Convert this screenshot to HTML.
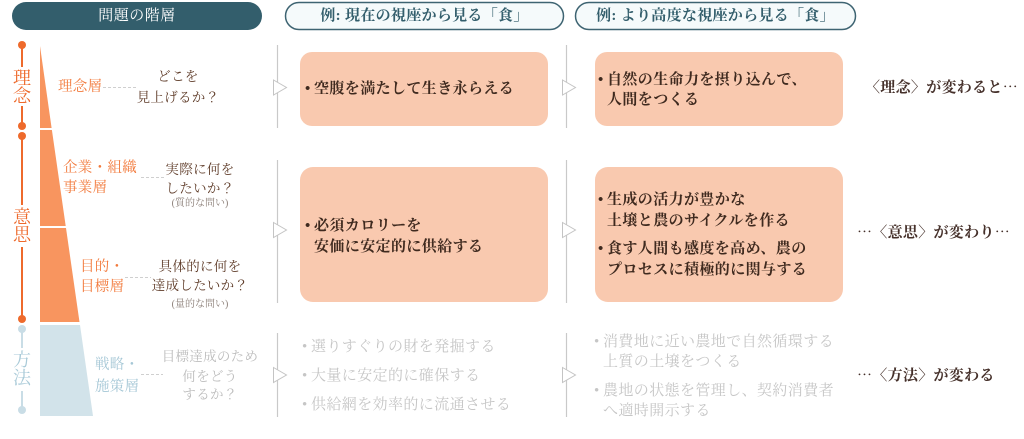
<!DOCTYPE html>
<html lang="ja"><head><meta charset="utf-8">
<style>
body{margin:0;width:1024px;height:439px;background:#fff;position:relative;overflow:hidden;font-family:"Liberation Serif","Noto Serif CJK SC",serif;}
.t{position:absolute;white-space:nowrap;}
.c{text-align:center;}
.or{color:#f27a3c;font-size:14.5px;line-height:20px;letter-spacing:0.3px;}
.bl{color:#a5c7d6;font-size:14.5px;line-height:20px;letter-spacing:0.3px;}
.q{color:#5e3b28;font-size:13.5px;line-height:20px;letter-spacing:0.3px;}
.qg{color:#bcbcbc;font-size:13.5px;line-height:20px;letter-spacing:0.3px;}
.sm{color:#8a7d76;font-size:10px;line-height:14px;}
.bx{color:#3f2a1f;font-size:15px;line-height:20px;letter-spacing:0.4px;font-weight:bold;}
.gy{color:#c6c6c6;font-size:15px;line-height:20px;letter-spacing:0.4px;}
.b{display:inline-block;width:9px;}
.rt{color:#45302a;font-size:15px;line-height:20px;letter-spacing:0.3px;font-weight:bold;font-family:"Noto Serif CJK SC",serif;}
.vt{position:absolute;width:20px;text-align:center;font-size:18px;line-height:18px;}
</style></head><body>
<svg width="1024" height="439" style="position:absolute;left:0;top:0">
  <rect x="12" y="2" width="250" height="28" rx="14" fill="#335e6c"/>
  <rect x="285.5" y="2.5" width="278" height="27" rx="13.5" fill="#f5fafb" stroke="#3e6472" stroke-width="1.5"/>
  <rect x="575.5" y="2.5" width="280" height="27" rx="13.5" fill="#f5fafb" stroke="#3e6472" stroke-width="1.5"/>

  <polygon points="40,46 40,128 51.6,128" fill="#f8955f"/>
  <polygon points="40,130 51.9,130 65.7,226 40,226" fill="#f8955f"/>
  <polygon points="40,228 66,228 79.5,322 40,322" fill="#f8955f"/>
  <polygon points="40,325 80,325 93,416 40,416" fill="#d2e3ea"/>

  <g stroke="#ee6a2c" stroke-width="2" fill="#ee6a2c">
    <line x1="22" y1="45" x2="22" y2="67"/>
    <line x1="22" y1="106" x2="22" y2="126"/>
    <line x1="22" y1="136" x2="22" y2="205"/>
    <line x1="22" y1="247" x2="22" y2="319"/>
    <circle cx="22" cy="45" r="4" stroke="none"/>
    <circle cx="22" cy="126" r="4" stroke="none"/>
    <circle cx="22" cy="136" r="4" stroke="none"/>
    <circle cx="22" cy="319" r="4" stroke="none"/>
  </g>
  <g stroke="#c9dde6" stroke-width="2" fill="#c9dde6">
    <line x1="22" y1="329" x2="22" y2="348"/>
    <line x1="22" y1="391" x2="22" y2="410"/>
    <circle cx="22" cy="329" r="4" stroke="none"/>
    <circle cx="22" cy="410" r="4" stroke="none"/>
  </g>

  <g stroke="#cfcfcf" stroke-width="1" stroke-dasharray="3 2">
    <line x1="103" y1="87.5" x2="138" y2="87.5"/>
    <line x1="141" y1="177.5" x2="165" y2="177.5"/>
    <line x1="125" y1="277.5" x2="151" y2="277.5"/>
    <line x1="141" y1="374.5" x2="163" y2="374.5"/>
  </g>

  <g stroke="#c9c9c9" stroke-width="1.2">
    <line x1="277.5" y1="45" x2="277.5" y2="128"/>
    <line x1="277.5" y1="160" x2="277.5" y2="303"/>
    <line x1="277.5" y1="333" x2="277.5" y2="417"/>
    <line x1="566.5" y1="45" x2="566.5" y2="128"/>
    <line x1="566.5" y1="160" x2="566.5" y2="303"/>
    <line x1="566.5" y1="333" x2="566.5" y2="417"/>
  </g>
  <g fill="#fff" stroke="#c4c4c4" stroke-width="1">
    <polygon points="273.5,80 286.5,87.5 273.5,95"/>
    <polygon points="273.5,222.5 286.5,230 273.5,237.5"/>
    <polygon points="273.5,367.5 286.5,375 273.5,382.5"/>
    <polygon points="562.5,80 575.5,87.5 562.5,95"/>
    <polygon points="562.5,222.5 575.5,230 562.5,237.5"/>
    <polygon points="562.5,367.5 575.5,375 562.5,382.5"/>
  </g>

  <rect x="300" y="52" width="248" height="74" rx="12" fill="#f9c9af"/>
  <rect x="595" y="52" width="248" height="74" rx="12" fill="#f9c9af"/>
  <rect x="300" y="167" width="248" height="135" rx="13" fill="#f9c9af"/>
  <rect x="595" y="167" width="248" height="135" rx="13" fill="#f9c9af"/>
</svg>

<div class="t c" style="left:12px;top:2px;width:250px;line-height:28px;font-size:15px;color:#fff;letter-spacing:0.5px;">問題の階層</div>
<div class="t c" style="left:285px;top:2px;width:279px;line-height:28px;font-size:15px;color:#335e6c;font-weight:bold;letter-spacing:0.3px;">例: 現在の視座から見る「食」</div>
<div class="t c" style="left:575px;top:2px;width:281px;line-height:28px;font-size:15px;color:#335e6c;font-weight:bold;letter-spacing:0.3px;">例: より高度な視座から見る「食」</div>

<div class="vt" style="left:12px;top:69px;color:#ee6a2c;">理<br>念</div>
<div class="vt" style="left:12px;top:208px;color:#ee6a2c;">意<br>思</div>
<div class="vt" style="left:12px;top:351px;color:#a9cad8;">方<br>法</div>

<div class="t or" style="left:58px;top:77px;">理念層</div>
<div class="t q c" style="left:130px;top:67px;width:96px;">どこを</div>
<div class="t q c" style="left:130px;top:88px;width:96px;">見上げるか？</div>

<div class="t or" style="left:63px;top:158px;">企業・組織</div>
<div class="t or" style="left:63px;top:178px;">事業層</div>
<div class="t q c" style="left:152px;top:160px;width:96px;">実際に何を</div>
<div class="t q c" style="left:152px;top:179px;width:96px;">したいか？</div>
<div class="t sm c" style="left:152px;top:197px;width:96px;">(質的な問い)</div>

<div class="t or" style="left:80px;top:257px;">目的・</div>
<div class="t or" style="left:80px;top:277px;">目標層</div>
<div class="t q c" style="left:150px;top:257px;width:100px;">具体的に何を</div>
<div class="t q c" style="left:150px;top:276px;width:100px;">達成したいか？</div>
<div class="t sm c" style="left:152px;top:298px;width:96px;">(量的な問い)</div>

<div class="t bl" style="left:95px;top:355px;">戦略・</div>
<div class="t bl" style="left:95px;top:377px;">施策層</div>
<div class="t qg c" style="left:158px;top:347px;width:104px;">目標達成のため</div>
<div class="t qg c" style="left:158px;top:367px;width:104px;">何をどう</div>
<div class="t qg c" style="left:158px;top:385px;width:104px;">するか？</div>

<div class="t bx" style="left:305px;top:79px;"><span class="b">•</span>空腹を満たして生き永らえる</div>

<div class="t bx" style="left:598px;top:70px;"><span class="b">•</span>自然の生命力を摂り込んで、</div>
<div class="t bx" style="left:607px;top:90px;">人間をつくる</div>

<div class="t bx" style="left:305px;top:216px;"><span class="b">•</span>必須カロリーを</div>
<div class="t bx" style="left:314px;top:237px;">安価に安定的に供給する</div>

<div class="t bx" style="left:598px;top:190px;"><span class="b">•</span>生成の活力が豊かな</div>
<div class="t bx" style="left:607px;top:211px;">土壌と農のサイクルを作る</div>
<div class="t bx" style="left:598px;top:239px;"><span class="b">•</span>食す人間も感度を高め、農の</div>
<div class="t bx" style="left:607px;top:260px;">プロセスに積極的に関与する</div>

<div class="t gy" style="left:302px;top:337px;"><span class="b">•</span>選りすぐりの財を発掘する</div>
<div class="t gy" style="left:302px;top:366px;"><span class="b">•</span>大量に安定的に確保する</div>
<div class="t gy" style="left:302px;top:395px;"><span class="b">•</span>供給網を効率的に流通させる</div>

<div class="t gy" style="left:594px;top:332px;"><span class="b">•</span>消費地に近い農地で自然循環する</div>
<div class="t gy" style="left:603px;top:352px;">上質の土壌をつくる</div>
<div class="t gy" style="left:594px;top:381px;"><span class="b">•</span>農地の状態を管理し、契約消費者</div>
<div class="t gy" style="left:603px;top:401px;">へ適時開示する</div>

<div class="t rt" style="left:865px;top:77px;">〈理念〉が変わると…</div>
<div class="t rt" style="left:857px;top:222px;">…〈意思〉が変わり…</div>
<div class="t rt" style="left:857px;top:365px;">…〈方法〉が変わる</div>
</body></html>
